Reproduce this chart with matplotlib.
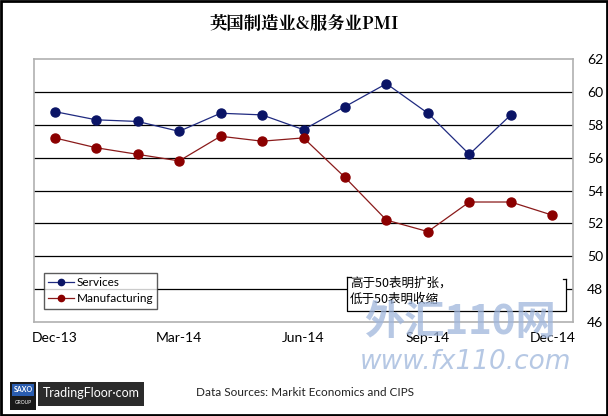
import numpy as np
import matplotlib.pyplot as plt
from matplotlib.patches import Rectangle
from matplotlib.lines import Line2D

plt.rcParams['font.family'] = ['Lato', 'Noto Sans CJK SC', 'DejaVu Sans']

# data
months = ['Dec-13', 'Jan-14', 'Feb-14', 'Mar-14', 'Apr-14', 'May-14', 'Jun-14',
          'Jul-14', 'Aug-14', 'Sep-14', 'Oct-14', 'Nov-14', 'Dec-14']
services = [58.8, 58.3, 58.2, 57.6, 58.7, 58.6, 57.7, 59.1, 60.5, 58.7, 56.2, 58.6, np.nan]
manufacturing = [57.2, 56.6, 56.2, 55.8, 57.3, 57.0, 57.2, 54.8, 52.2, 51.5, 53.3, 53.3, 52.5]
tick_idx = [0, 3, 6, 9, 12]
y_ticks = [46, 48, 50, 52, 54, 56, 58, 60, 62]

title = '英国制造业&服务业PMI'
note_lines = ['高于50表明扩张，', '低于50表明收缩']
source = 'Data Sources: Markit Economics and CIPS'

fig = plt.figure(figsize=(6.08, 4.16), dpi=100)
W, H = 608, 416
def fx(px): return px / W
def fy(py): return 1 - py / H

ax = fig.add_axes([fx(34), fy(322), fx(573) - fx(34), fy(59) - fy(322)])
x = np.arange(len(months))

for g in y_ticks[1:-1]:
    ax.axhline(g, color='black', lw=0.9, zorder=1)

ax.plot(x, services, color='#1f2a80', lw=0.9, marker='o', ms=6.5,
        mfc='#0a1466', mec='#0a1466', zorder=3)
ax.plot(x, manufacturing, color='#8a1a1a', lw=0.9, marker='o', ms=6.5,
        mfc='#8b0000', mec='#8b0000', zorder=3)

ax.set_xlim(-0.5, 12.5)
ax.set_ylim(46, 62)
ax.set_xticks([x[i] for i in tick_idx])
ax.set_xticklabels([months[i] for i in tick_idx], fontsize=10)
ax.set_yticks(y_ticks)
ax.yaxis.tick_right()
ax.tick_params(axis='y', length=0, pad=10, labelsize=10)
ax.tick_params(axis='x', length=0, pad=7)
for s in ax.spines.values():
    s.set_color('#b0b0b0')
    s.set_linewidth(1.2)

# legend
handles = [Line2D([], [], color='#1f2a80', lw=0.9, marker='o', ms=4.5, mfc='#0a1466', mec='#0a1466'),
           Line2D([], [], color='#8a1a1a', lw=0.9, marker='o', ms=4.5, mfc='#8b0000', mec='#8b0000')]
leg = ax.legend(handles, ['Services', 'Manufacturing'], loc='upper left',
                fontsize=8.5, frameon=True, fancybox=False, handlelength=2.2,
                handletextpad=0.2, borderpad=0.35, labelspacing=0.45, borderaxespad=0)
leg.set_bbox_to_anchor((fx(44), fy(273)), transform=fig.transFigure)
leg.get_frame().set_edgecolor('#333333')
leg.get_frame().set_linewidth(1.0)
leg.set_zorder(5)

# note box
fig.patches.append(Rectangle((fx(347), fy(311)), fx(566) - fx(347), fy(277) - fy(311),
                             transform=fig.transFigure, facecolor='white', edgecolor='none', zorder=4))
for xs, ys in [([347, 347, 566, 566], [277, 311, 311, 279]),
               ([347, 351], [277, 277]), ([566, 563], [279, 279])]:
    fig.add_artist(Line2D([fx(v) for v in xs], [fy(v) for v in ys], color='black', lw=0.9, zorder=5))
for i, line in enumerate(note_lines):
    fig.text(fx(350), fy(283 + 16 * i), line, fontsize=9, va='center', ha='left',
             family=['Noto Sans CJK SC', 'DejaVu Sans'], zorder=6)

# title
fig.text(0.5, fy(24), title, fontsize=12.5, fontweight='bold', ha='center', va='center',
         family=['Noto Serif CJK SC', 'Noto Sans CJK SC', 'DejaVu Serif'])

# watermark
fig.text(fx(460), fy(322), '外汇110网', fontsize=29, fontweight='bold', style='italic',
         color='#9fb6dc', alpha=0.75, ha='center', va='center',
         family=['Noto Sans CJK SC', 'DejaVu Sans'], zorder=7)
fig.text(fx(466), fy(362), 'www.fx110.com', fontsize=19, style='italic',
         color='#a9bfe0', alpha=0.85, ha='center', va='center', family='DejaVu Sans', zorder=7)

# source line
fig.text(fx(305), fy(393), source, fontsize=8.5, ha='center', va='center', color='#222222')

# logo
fig.patches.append(Rectangle((fx(10), fy(410)), fx(36) - fx(10), fy(382) - fy(410),
                             transform=fig.transFigure, facecolor='#1a1a1a', edgecolor='none'))
fig.patches.append(Rectangle((fx(12), fy(396)), fx(34) - fx(12), fy(384) - fy(396),
                             transform=fig.transFigure, facecolor='#2a5db0', edgecolor='none'))
fig.text(fx(23), fy(390), 'SAXO', fontsize=5, color='white', fontweight='bold', ha='center', va='center')
fig.text(fx(23), fy(403), 'GROUP', fontsize=3.5, color='white', ha='center', va='center')
fig.patches.append(Rectangle((fx(38), fy(406)), fx(144) - fx(38), fy(382) - fy(406),
                             transform=fig.transFigure, facecolor='#2b2b2b', edgecolor='none'))
fig.text(fx(91), fy(393), 'TradingFloor·com', fontsize=9, color='white', ha='center', va='center')

# outer frame
fig.patches.append(Rectangle((0.002, 0.003), 0.996, 0.994, transform=fig.transFigure,
                             facecolor='none', edgecolor='black', lw=2))

fig.savefig('out.png', dpi=100)
